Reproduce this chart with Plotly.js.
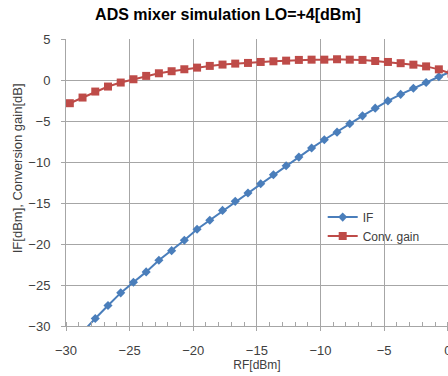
<!DOCTYPE html>
<html>
<head>
<meta charset="utf-8">
<script src="https://cdn.plot.ly/plotly-3.0.1.min.js"></script>
<style>html,body{margin:0;padding:0;background:#fff;}#chart{width:448px;height:376px;}</style>
</head>
<body>
<div id="chart"></div>
<script>
const rfPower = [-29.7,-28.7,-27.7,-26.7,-25.7,-24.7,-23.7,-22.7,-21.7,-20.7,-19.7,-18.7,-17.7,-16.7,-15.7,-14.7,-13.7,-12.7,-11.7,-10.7,-9.7,-8.7,-7.7,-6.7,-5.7,-4.7,-3.7,-2.7,-1.7,-0.7,0.3];
const ifPower = [-32.4,-30.7,-29.08,-27.5,-25.96,-24.67,-23.4,-21.99,-20.81,-19.55,-18.2,-17.1,-15.9,-14.8,-13.78,-12.65,-11.55,-10.46,-9.4,-8.3,-7.29,-6.36,-5.34,-4.37,-3.43,-2.55,-1.75,-1.0,-0.3,0.4,1.05];
const convGain = [-2.83,-2.14,-1.41,-0.8,-0.31,0.09,0.5,0.82,1.07,1.31,1.51,1.72,1.88,2.0,2.08,2.2,2.28,2.36,2.45,2.48,2.48,2.53,2.48,2.45,2.32,2.2,2.05,1.87,1.66,1.3,0.75];
const seriesNames = ["IF", "Conv. gain"];
const yTitle = "IF[dBm], Conversion gain[dB]";

const traces = [
  {x: rfPower, y: ifPower, name: seriesNames[0], type: 'scatter', mode: 'lines+markers',
   line: {color: '#4A7EBB', width: 2}, marker: {symbol: 'diamond', size: 7, color: '#4A7EBB'}, cliponaxis: true},
  {x: rfPower, y: convGain, name: seriesNames[1], type: 'scatter', mode: 'lines+markers',
   line: {color: '#BE4B48', width: 2}, marker: {symbol: 'square', size: 8, color: '#BE4B48'}, cliponaxis: true}
];

const layout = {
  width: 448, height: 376,
  margin: {l: 66, r: 0, t: 39, b: 50},
  paper_bgcolor: '#fff', plot_bgcolor: '#fff',
  font: {family: 'Liberation Sans, Arial, sans-serif', size: 12, color: '#404040'},
  title: {text: '<b>ADS mixer simulation LO=+4[dBm]</b>', x: 0.509, xanchor: 'center', y: 0.963, yanchor: 'middle',
          font: {family: 'Liberation Sans, Arial, sans-serif', size: 16, color: '#000'}},
  showlegend: true,
  legend: {x: 0.672, y: 0.43, xanchor: 'left', yanchor: 'top', bgcolor: 'rgba(0,0,0,0)',
           font: {size: 12, color: '#404040'}, tracegroupgap: 0, itemwidth: 30},
  annotations: [{text: yTitle, xref: 'paper', yref: 'paper', x: -0.128, y: 0.55, xanchor: 'center', yanchor: 'middle',
                 textangle: -90, showarrow: false, font: {size: 13, color: '#404040'}}],
  xaxis: {
    range: [-30, 0.02], dtick: 5, tick0: -30,
    title: {text: 'RF[dBm]', standoff: 4, font: {size: 12, color: '#404040'}},
    showgrid: true, gridcolor: '#A6A6A6', gridwidth: 1,
    showline: true, linecolor: '#A6A6A6', linewidth: 1,
    zeroline: false, ticks: 'outside', ticklen: 4, tickcolor: '#A6A6A6', ticklabelstandoff: 8,
    ticklabeloverflow: 'allow',
    minor: {dtick: 1, ticks: 'inside', ticklen: 4, tickcolor: '#A6A6A6', showgrid: false},
    tickfont: {size: 13, color: '#404040'}
  },
  yaxis: {
    range: [-30, 5], dtick: 5, tick0: -30,
    showgrid: true, gridcolor: '#A6A6A6', gridwidth: 1,
    showline: true, linecolor: '#A6A6A6', linewidth: 1,
    zeroline: false, ticks: 'outside', ticklen: 4, tickcolor: '#A6A6A6', ticklabelstandoff: 8,
    tickfont: {size: 13, color: '#404040'}
  }
};

Plotly.newPlot('chart', traces, layout, {displayModeBar: false, staticPlot: true});
</script>
</body>
</html>
